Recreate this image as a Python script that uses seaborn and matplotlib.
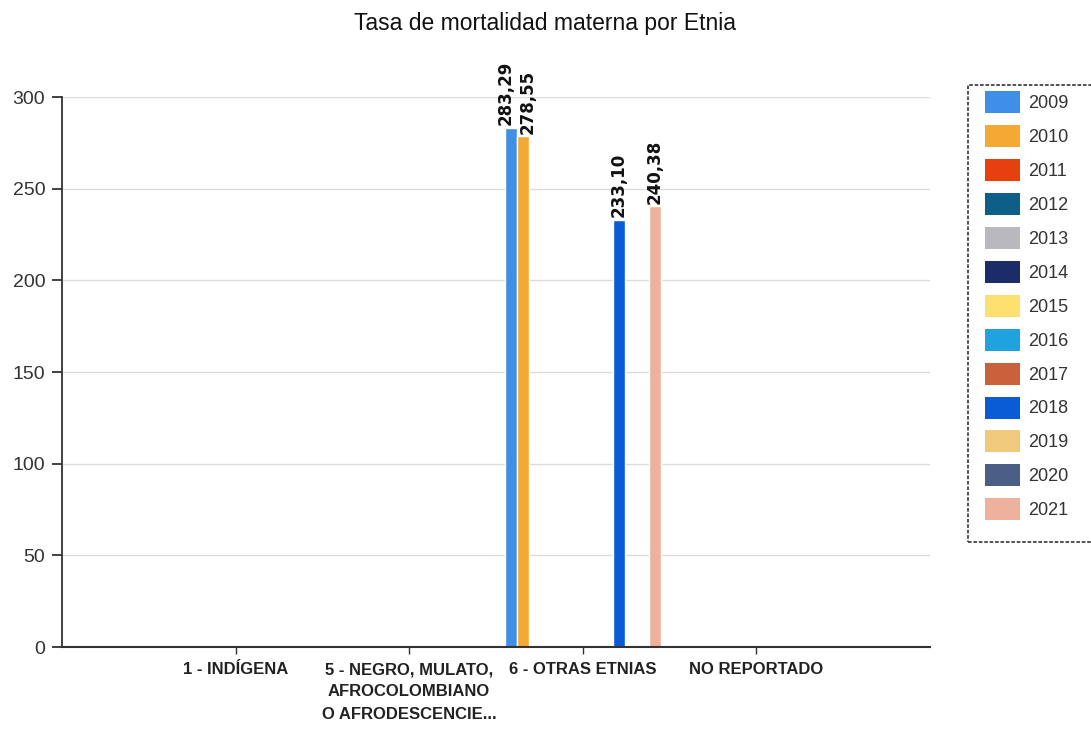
import pandas as pd
import matplotlib
matplotlib.use('Agg')
import matplotlib.pyplot as plt
from matplotlib.patches import Patch, Rectangle
import seaborn as sns

# categorias del eje x
etnias = ['1 - INDÍGENA',
          '5 - NEGRO, MULATO,\nAFROCOLOMBIANO\nO AFRODESCENCIE...',
          '6 - OTRAS ETNIAS',
          'NO REPORTADO']
anios = ['2009', '2010', '2011', '2012', '2013', '2014', '2015',
         '2016', '2017', '2018', '2019', '2020', '2021']
colores = ['#3f8fe6', '#f5a935', '#e6400e', '#0d5f88', '#b9b9bd', '#1b2d66',
           '#fde070', '#1fa2dd', '#c9613d', '#0a5bd6', '#f0c97d', '#4b5e86',
           '#edb19e']

# barras con dato (solo hay valores en 6 - OTRAS ETNIAS)
bar_etnia = ['6 - OTRAS ETNIAS', '6 - OTRAS ETNIAS', '6 - OTRAS ETNIAS', '6 - OTRAS ETNIAS']
bar_anio = ['2009', '2010', '2018', '2021']
bar_tasa = [283.29, 278.55, 233.10, 240.38]

df = pd.DataFrame({'etnia': bar_etnia, 'anio': bar_anio, 'tasa': bar_tasa})

sns.set_style('white')
plt.rcParams['font.family'] = ['Liberation Sans', 'DejaVu Sans']

W, H = 1091, 743
fig = plt.figure(figsize=(W / 100, H / 100), dpi=100)
ax = fig.add_axes([62 / W, 1 - 647 / H, (930 - 62) / W, 550 / H])

sns.barplot(data=df, x='etnia', y='tasa', hue='anio', order=etnias, hue_order=anios,
            palette=dict(zip(anios, colores)), width=0.9, saturation=1,
            errorbar=None, legend=False, ax=ax)

# etiquetas de valor, coma decimal; las de barras contiguas se separan un poco
etiquetas_todas = []
for cont in ax.containers:
    etiquetas = [f'{v:.2f}'.replace('.', ',') for v in cont.datavalues]
    anns = ax.bar_label(cont, labels=etiquetas, rotation=90, padding=2, fontsize=12,
                        fontweight='bold', family='DejaVu Sans', color='#111111',
                        clip_on=False)
    for rect, ann in zip(cont.patches, anns):
        etiquetas_todas.append((rect.get_x() + rect.get_width() / 2, rect.get_width(), ann))
etiquetas_todas.sort(key=lambda e: e[0])
for (x0, w0, a0), (x1, w1, a1) in zip(etiquetas_todas[:-1], etiquetas_todas[1:]):
    if x1 - x0 < 1.5 * w0:
        a0.xyann = (a0.xyann[0] - 3.5, a0.xyann[1])
        a1.xyann = (a1.xyann[0] + 3.5, a1.xyann[1])

ax.set_xlim(-1, 4)
ax.set_ylim(0, 300)
ax.set_yticks([0, 50, 100, 150, 200, 250, 300])
ax.set_xlabel('')
ax.set_ylabel('')
ax.yaxis.grid(True, color='#dcdcdc', linewidth=1)
ax.set_axisbelow(True)

for s in ['top', 'right']:
    ax.spines[s].set_visible(False)
ax.spines['left'].set_color('#333333')
ax.spines['bottom'].set_color('#333333')
ax.spines['left'].set_linewidth(1.3)
ax.spines['bottom'].set_linewidth(1.5)

ax.tick_params(axis='y', left=True, length=7, width=1.3, color='#333333',
               labelsize=14, labelcolor='#333333', pad=5)
ax.tick_params(axis='x', bottom=True, length=5, width=1, color='#333333',
               labelsize=12, pad=6)
for t in ax.get_xticklabels():
    t.set_fontweight('bold')
    t.set_color('#222222')
    t.set_linespacing(1.6)

fig.text(0.5, 1 - 30 / H, 'Tasa de mortalidad materna por Etnia',
         ha='center', va='baseline', fontsize=16.5, color='#111111')

# leyenda con marco punteado
marco = Rectangle((968 / W, 1 - 542 / H), 140 / W, 457 / H, transform=fig.transFigure,
                  facecolor='none', edgecolor='#444444', linewidth=1.3,
                  linestyle=(0, (2, 1)), clip_on=False)
fig.add_artist(marco)

handles = [Patch(facecolor=c, edgecolor='none') for c in colores]
leg = fig.legend(handles, anios, loc='upper left',
                 bbox_to_anchor=(985 / W, 1 - 91 / H),
                 bbox_transform=fig.transFigure, fontsize=13,
                 handlelength=1.94, handleheight=1.5, labelspacing=0.66,
                 handletextpad=0.45, borderpad=0, borderaxespad=0, frameon=False)
for t in leg.get_texts():
    t.set_color('#333333')

fig.savefig('out.png', dpi=100)
